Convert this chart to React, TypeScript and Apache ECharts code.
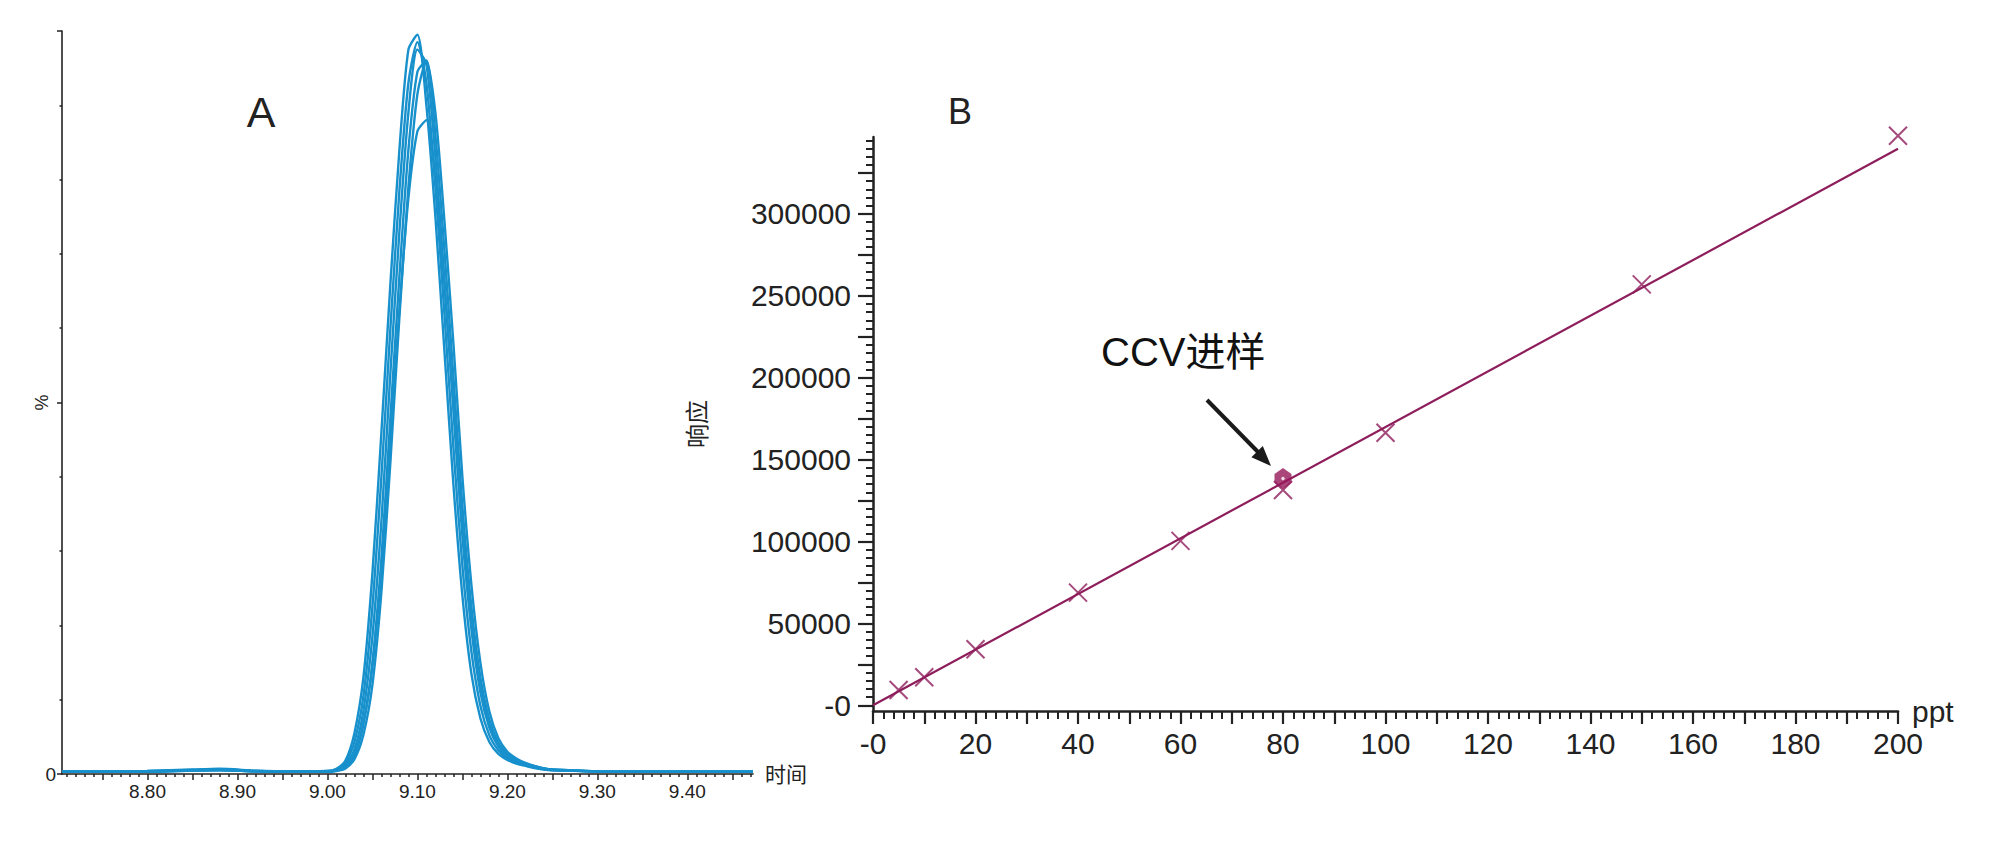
import React, { useEffect, useRef } from "react";
import * as echarts from "echarts";

// ---------- Chart A: overlaid chromatograms ----------
const aTimes = [8.705, 8.75, 8.8, 8.85, 8.88, 8.92, 8.96,
  9.0, 9.01, 9.02, 9.03, 9.04, 9.05, 9.06, 9.07, 9.08, 9.09, 9.1, 9.11, 9.12, 9.13, 9.14, 9.15, 9.16, 9.17, 9.18, 9.19, 9.2, 9.21, 9.22, 9.23, 9.24, 9.25,
  9.3, 9.35, 9.4, 9.473];
const aRun1 = [0.3, 0.3, 0.4, 0.6, 0.7, 0.45, 0.35,
  0.4, 0.7, 1.8, 5.5, 13, 27, 46, 66, 84, 97.5, 99.5, 90, 75, 57, 39, 24, 13.5, 7.5, 4.3, 2.7, 1.9, 1.4, 1.1, 0.8, 0.6, 0.5,
  0.35, 0.3, 0.3, 0.3];
const aRun2 = [0.3, 0.3, 0.4, 0.55, 0.65, 0.4, 0.3,
  0.4, 0.6, 1.4, 4.3, 10.5, 22.5, 40, 60, 78.5, 93, 98.5, 93, 79, 62, 44, 28, 16.5, 9.2, 5.2, 3.2, 2.1, 1.5, 1.2, 0.9, 0.65, 0.5,
  0.35, 0.3, 0.3, 0.3];
const aRun3 = [0.3, 0.3, 0.35, 0.5, 0.6, 0.4, 0.3,
  0.35, 0.5, 1.1, 3.3, 8.5, 18.5, 34, 54, 73, 89, 97.5, 95.5, 83, 66.5, 49, 32, 19.5, 11, 6.2, 3.7, 2.4, 1.7, 1.3, 1.0, 0.7, 0.55,
  0.35, 0.3, 0.3, 0.3];
const aRun4 = [0.3, 0.3, 0.3, 0.5, 0.55, 0.35, 0.3,
  0.3, 0.45, 0.9, 2.5, 6.8, 15, 29, 48, 67, 84, 94.5, 96, 86, 70.5, 53.5, 36, 22.5, 13, 7.3, 4.2, 2.7, 1.9, 1.4, 1.05, 0.75, 0.6,
  0.35, 0.3, 0.3, 0.3];
const aRun5 = [0.3, 0.3, 0.3, 0.45, 0.5, 0.35, 0.3,
  0.3, 0.4, 0.75, 2.0, 5.3, 12, 24.5, 42, 61.5, 79, 91.5, 96, 89, 74.5, 58, 40, 25.5, 15, 8.4, 4.8, 3.0, 2.1, 1.5, 1.1, 0.8, 0.6,
  0.35, 0.3, 0.3, 0.3];
const aRun6 = [0.3, 0.3, 0.3, 0.45, 0.5, 0.35, 0.3,
  0.3, 0.45, 0.95, 2.6, 6.8, 14.5, 27.5, 45, 62.5, 77.5, 86.5, 88, 80, 66, 50, 34, 21, 12, 6.7, 3.9, 2.5, 1.8, 1.3, 1.0, 0.7, 0.55,
  0.35, 0.3, 0.3, 0.3];
const aRuns = [aRun1, aRun2, aRun3, aRun4, aRun5, aRun6];

const aXLabels = [8.8, 8.9, 9.0, 9.1, 9.2, 9.3, 9.4];
const aXMajorTicks = [8.75, 8.8, 8.85, 8.9, 8.95, 9.0, 9.05, 9.1, 9.15, 9.2, 9.25, 9.3, 9.35, 9.4, 9.45];
const aXMinorTicks = [8.71, 8.72, 8.73, 8.74, 8.76, 8.77, 8.78, 8.79, 8.81, 8.82, 8.83, 8.84, 8.86, 8.87, 8.88, 8.89, 8.91, 8.92, 8.93, 8.94, 8.96, 8.97, 8.98, 8.99, 9.01, 9.02, 9.03, 9.04, 9.06, 9.07, 9.08, 9.09, 9.11, 9.12, 9.13, 9.14, 9.16, 9.17, 9.18, 9.19, 9.21, 9.22, 9.23, 9.24, 9.26, 9.27, 9.28, 9.29, 9.31, 9.32, 9.33, 9.34, 9.36, 9.37, 9.38, 9.39, 9.41, 9.42, 9.43, 9.44, 9.46, 9.47];
const aYLabels = [0];
const aYMajorTicks = [0, 50, 100];
const aYMinorTicks = [10, 20, 30, 40, 60, 70, 80, 90];

// ---------- Chart B: calibration curve ----------
const bConc = [5, 10, 20, 40, 60, 80, 100, 150, 200];
const bResponse = [9300, 17100, 34200, 68800, 100400, 131400, 166400, 257000, 347800];
const bFitConc = [0, 200];
const bFitResponse = [0, 339800];
const bCcvConc = [80];
const bCcvResponse = [138500];

const bXLabels = [0, 20, 40, 60, 80, 100, 120, 140, 160, 180, 200];
const bXMajorTicks = [0, 10, 20, 30, 40, 50, 60, 70, 80, 90, 100, 110, 120, 130, 140, 150, 160, 170, 180, 190, 200];
const bXMinorTicks: number[] = [];
for (let v = 2; v < 200; v += 2) if (v % 10 !== 0) bXMinorTicks.push(v);
const bYLabels = [0, 50000, 100000, 150000, 200000, 250000, 300000];
const bYMajorTicks = [0, 25000, 50000, 75000, 100000, 125000, 150000, 175000, 200000, 225000, 250000, 275000, 300000, 325000];
const bYMinorTicks: number[] = [];
for (let v = 5000; v <= 345000; v += 5000) if (v % 25000 !== 0) bYMinorTicks.push(v);

const A_MIN = 8.705;
const A_MAX = 9.473;
const B_YMIN = -3500;
const B_YMAX = 347000;

const BLUE = "#1790cc";
const PURPLE = "#8e1d5b";
const INK = "#222";
const LATIN = "'Liberation Sans', Arial, sans-serif";
const MIXED = "'Liberation Sans', 'Noto Sans CJK SC', sans-serif";

export default function App() {
  const ref = useRef<HTMLDivElement>(null);
  useEffect(() => {
    if (!ref.current) return;
    const chart = echarts.init(ref.current, undefined, { renderer: "svg" });

    const tickLine = (w: number) => ({ color: INK, width: w });

    const option: any = {
      animation: false,
      backgroundColor: "#fff",
      grid: [
        { left: 62, top: 31, width: 691, height: 743 },
        { left: 873, top: 137, width: 1025, height: 574 },
      ],
      xAxis: [
        {
          gridIndex: 0, position: "bottom", type: "value", min: A_MIN, max: A_MAX,
          axisLine: { show: true, onZero: false, lineStyle: tickLine(1.6) },
          axisTick: { show: true, customValues: aXMajorTicks, length: 6, lineStyle: tickLine(1.5) },
          axisLabel: { show: true, customValues: aXLabels, formatter: (v: number) => v.toFixed(2), fontSize: 19, margin: 8, color: INK, fontFamily: LATIN },
          splitLine: { show: false },
          name: "时间", nameLocation: "end", nameGap: 12,
          nameTextStyle: { fontSize: 21, color: INK, fontFamily: MIXED, verticalAlign: "middle", padding: [8, 0, 0, 0] },
        },
        {
          gridIndex: 0, position: "bottom", type: "value", min: A_MIN, max: A_MAX,
          axisLine: { show: false, onZero: false },
          axisTick: { show: true, customValues: aXMinorTicks, length: 3, lineStyle: tickLine(1.5) },
          axisLabel: { show: false }, splitLine: { show: false },
        },
        {
          gridIndex: 1, position: "bottom", type: "value", min: 0, max: 200,
          axisLine: { show: true, onZero: false, lineStyle: tickLine(2.5) },
          axisTick: { show: true, customValues: bXMajorTicks, length: 13, lineStyle: tickLine(2.2) },
          axisLabel: { show: true, customValues: bXLabels, formatter: (v: number) => (v === 0 ? "-0" : String(v)), fontSize: 30, margin: 17, color: INK, fontFamily: LATIN },
          splitLine: { show: false },
          name: "ppt", nameLocation: "end", nameGap: 14,
          nameTextStyle: { fontSize: 30, color: INK, fontFamily: LATIN, verticalAlign: "middle", padding: [0, 0, 6, 0] },
        },
        {
          gridIndex: 1, position: "bottom", type: "value", min: 0, max: 200,
          axisLine: { show: false, onZero: false },
          axisTick: { show: true, customValues: bXMinorTicks, length: 8, lineStyle: tickLine(2) },
          axisLabel: { show: false }, splitLine: { show: false },
        },
      ],
      yAxis: [
        {
          gridIndex: 0, position: "left", type: "value", min: 0, max: 100,
          axisLine: { show: true, onZero: false, lineStyle: tickLine(1.6) },
          axisTick: { show: true, customValues: aYMajorTicks, length: 5, lineStyle: tickLine(1.5) },
          axisLabel: { show: true, customValues: aYLabels, formatter: () => "0", fontSize: 19, margin: 6, color: INK, fontFamily: LATIN },
          splitLine: { show: false },
          name: "%", nameLocation: "middle", nameGap: 11, nameRotate: 90, nameMoveOverlap: false,
          nameTextStyle: { fontSize: 18, color: INK, fontFamily: LATIN },
        },
        {
          gridIndex: 0, position: "left", type: "value", min: 0, max: 100,
          axisLine: { show: false, onZero: false },
          axisTick: { show: true, customValues: aYMinorTicks, length: 2.5, lineStyle: tickLine(1.5) },
          axisLabel: { show: false }, splitLine: { show: false },
        },
        {
          gridIndex: 1, position: "left", type: "value", min: B_YMIN, max: B_YMAX,
          axisLine: { show: true, onZero: false, lineStyle: tickLine(2.5) },
          axisTick: { show: true, customValues: bYMajorTicks, length: 15, lineStyle: tickLine(2.2) },
          axisLabel: { show: true, customValues: bYLabels, formatter: (v: number) => (v === 0 ? "-0" : String(v)), fontSize: 30, margin: 22, color: INK, fontFamily: LATIN },
          splitLine: { show: false },
          name: "响应", nameLocation: "middle", nameGap: 164, nameRotate: 90,
          nameTextStyle: { fontSize: 24, color: INK, fontFamily: MIXED },
        },
        {
          gridIndex: 1, position: "left", type: "value", min: B_YMIN, max: B_YMAX,
          axisLine: { show: false, onZero: false },
          axisTick: { show: true, customValues: bYMinorTicks, length: 7, lineStyle: tickLine(2) },
          axisLabel: { show: false }, splitLine: { show: false },
        },
      ],
      series: [
        ...aRuns.map((run, k) => ({
          name: "run" + (k + 1),
          type: "line",
          xAxisIndex: 0, yAxisIndex: 0,
          data: aTimes.map((t, i) => [t, run[i]]),
          showSymbol: false, symbol: "none",
          smooth: 0.25,
          lineStyle: { color: BLUE, width: 2.4 },
          z: 3,
        })),
        {
          name: "fit", type: "line", xAxisIndex: 2, yAxisIndex: 2,
          data: bFitConc.map((c, i) => [c, bFitResponse[i]]),
          showSymbol: false, symbol: "none",
          lineStyle: { color: PURPLE, width: 2.2 },
          z: 3,
        },
        {
          name: "standards", type: "scatter", xAxisIndex: 2, yAxisIndex: 2,
          data: bConc.map((c, i) => [c, bResponse[i]]),
          symbol: "path://M0 0L10 10M10 0L0 10", symbolSize: 18,
          itemStyle: { color: "none", borderColor: PURPLE, borderWidth: 2 },
          clip: false,
          z: 4,
        },
        {
          name: "CCV", type: "scatter", xAxisIndex: 2, yAxisIndex: 2,
          data: bCcvConc.map((c, i) => [c, bCcvResponse[i]]),
          symbol: "path://M5 0L10 3.5L10 8.5L5 12L0 8.5L0 3.5Z", symbolSize: [17, 21],
          itemStyle: { color: "#96185a" },
          z: 5,
        },
        {
          name: "CCVdot", type: "scatter", xAxisIndex: 2, yAxisIndex: 2,
          data: bCcvConc.map((c, i) => [c, bCcvResponse[i]]),
          symbol: "circle", symbolSize: 3.5,
          itemStyle: { color: "#fff" },
          z: 6,
        },
      ],
      graphic: [
        { type: "text", x: 261, y: 112, style: { text: "A", fontSize: 43, fontFamily: LATIN, fill: INK, textAlign: "center", textVerticalAlign: "middle", align: "center", verticalAlign: "middle" } },
        { type: "text", x: 960, y: 111, style: { text: "B", fontSize: 36, fontFamily: LATIN, fill: INK, textAlign: "center", textVerticalAlign: "middle", align: "center", verticalAlign: "middle" } },
        { type: "text", x: 1101, y: 352, style: { text: "CCV进样", fontSize: 40, fontFamily: MIXED, fill: "#111", textAlign: "left", textVerticalAlign: "middle", align: "left", verticalAlign: "middle" } },
        { type: "line", shape: { x1: 1207, y1: 400, x2: 1258, y2: 452 }, style: { stroke: "#1a1a1a", lineWidth: 4 } },
        { type: "polygon", shape: { points: [[1271, 466], [1251.4, 457.2], [1262.8, 446]] }, style: { fill: "#1a1a1a" } },
      ],
    };

    chart.setOption(option);
    return () => chart.dispose();
  }, []);

  return <div ref={ref} style={{ position: "fixed", left: 0, top: 0, width: 2000, height: 855, background: "#fff" }} />;
}
